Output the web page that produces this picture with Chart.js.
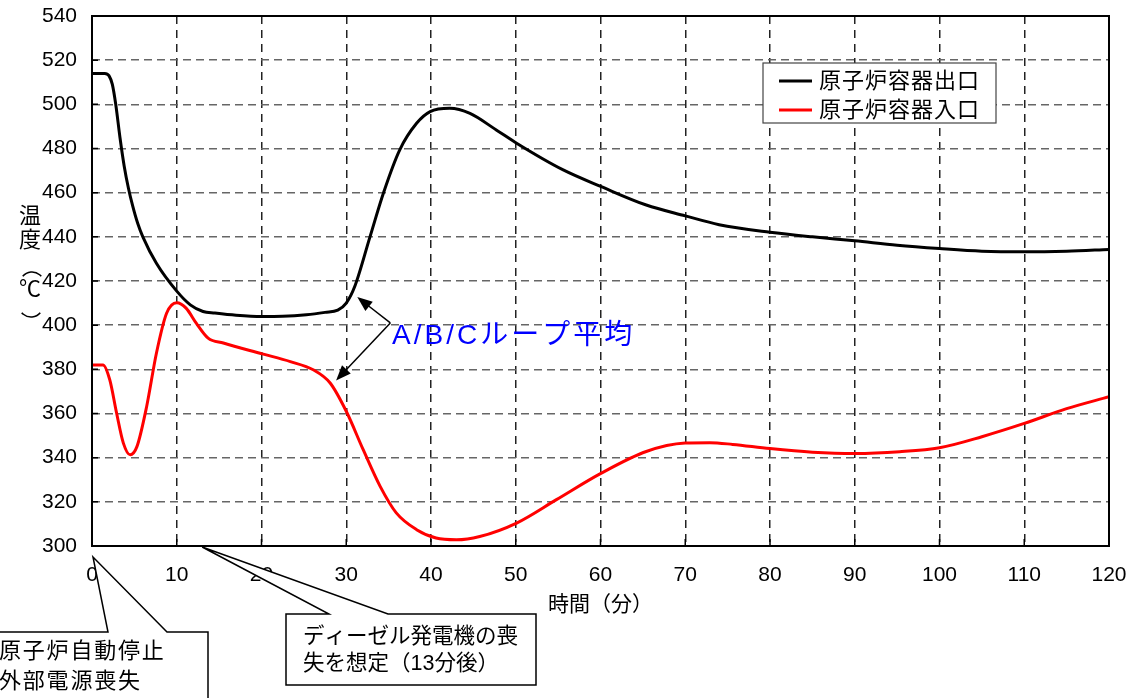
<!DOCTYPE html>
<html>
<head>
<meta charset="utf-8">
<script src="https://cdn.jsdelivr.net/npm/chart.js@4.4.1/dist/chart.umd.min.js"></script>
<style>
  body { margin: 0; background: #fff; }
  #wrap { width: 1133px; height: 698px; }
</style>
</head>
<body>
<div id="wrap"><canvas id="myChart" width="1133" height="698"></canvas></div>
<script>
// 原子炉容器出口 (outlet)
var outletTime = [0, 1.5, 2.0, 2.4, 2.8, 3.3, 3.8, 4.3, 4.8, 5.4, 6.0, 7.6, 10.0, 11.6, 13.1, 14.5, 17, 20, 22.5, 25.3, 27.5, 29, 30, 31, 32.8, 34.4, 36.3, 38.3, 39.9, 42.2, 44.6, 47.7, 50.1, 55.6, 60.1, 65.4, 70, 74, 80, 85, 90, 95, 100, 105, 110, 115, 120];
var outletTemp = [514, 514, 513, 509, 500, 485, 472, 462, 454, 446, 440, 428, 415.4, 409.2, 406.2, 405.5, 404.5, 403.9, 404, 404.7, 405.8, 406.8, 410, 417.5, 440, 460, 479.3, 491.4, 496.7, 498.2, 495.9, 488.4, 482.4, 470.3, 462.7, 454.4, 449.5, 445.5, 442.1, 440, 438.2, 436.2, 434.7, 433.5, 433.2, 433.5, 434.3];

// 原子炉容器入口 (inlet)
var inletTime = [0, 1.3, 2.1, 2.9, 3.7, 4.5, 5.3, 6.45, 7.6, 8.8, 10.0, 11.1, 12.3, 13.7, 15.5, 20.1, 23.4, 26.1, 28.1, 30, 32, 34, 35.9, 38.3, 40.6, 43, 45.75, 50.1, 54.8, 60.1, 65.4, 70, 72.9, 75.6, 80, 85, 90, 95.3, 100, 105, 110, 115, 120];
var inletTemp = [382, 382, 375.2, 360.2, 346.6, 341.3, 345, 363.2, 387.3, 405.4, 410.2, 407.7, 400.9, 394.1, 391.9, 387, 383.5, 379.8, 373.8, 361, 343.6, 327, 315, 307.4, 303.6, 302.8, 304.3, 310.4, 321, 333, 342.8, 346.6, 346.8, 346, 344.1, 342.5, 341.9, 342.7, 344.5, 349.5, 355.5, 362.2, 367.6];

var seriesLabels = ['原子炉容器出口', '原子炉容器入口'];
var seriesColors = ['#000000', '#ff0000'];

var xMin = 0, xMax = 120, xStep = 10;
var yMin = 300, yMax = 540, yStep = 10;

var FONT = "'Liberation Sans', 'Noto Sans CJK JP', sans-serif";

function toPoints(xs, ys) {
    return xs.map(function (t, i) { return {x: t, y: ys[i]}; });
}

// annotations, legend, frame, inner ticks
var extras = {
    id: 'extras',
    afterDraw: function (chart) {
        var ctx = chart.ctx;
        var a = chart.chartArea;
        var x = chart.scales.x, y = chart.scales.y;
        ctx.save();

        // inner tick marks
        ctx.strokeStyle = '#000';
        ctx.lineWidth = 1.5;
        ctx.beginPath();
        y.ticks.forEach(function (t) {
            var py = y.getPixelForValue(t.value);
            ctx.moveTo(a.left, py); ctx.lineTo(a.left + 6, py);
        });
        x.ticks.forEach(function (t) {
            var px = x.getPixelForValue(t.value);
            ctx.moveTo(px, a.bottom); ctx.lineTo(px, a.bottom - 7);
        });
        ctx.stroke();

        // frame
        ctx.lineWidth = 2;
        ctx.strokeRect(a.left, a.top, a.right - a.left, a.bottom - a.top);

        // legend
        var lx = 763, ly = 63;
        ctx.fillStyle = '#fff';
        ctx.fillRect(lx, ly, 233, 60);
        ctx.strokeStyle = '#444';
        ctx.lineWidth = 1.2;
        ctx.strokeRect(lx, ly, 233, 60);
        ctx.font = '22px ' + FONT;
        ctx.textBaseline = 'middle';
        ctx.textAlign = 'left';
        ctx.letterSpacing = '1px';
        chart.data.datasets.forEach(function (ds, i) {
            var rowY = ly + 18 + i * 29;
            ctx.strokeStyle = ds.borderColor;
            ctx.lineWidth = 3;
            ctx.beginPath();
            ctx.moveTo(lx + 16, rowY); ctx.lineTo(lx + 49, rowY);
            ctx.stroke();
            ctx.fillStyle = '#000';
            ctx.fillText(ds.label, lx + 56, rowY + 1);
        });
        ctx.letterSpacing = '0px';

        // y axis title (vertical)
        ctx.fillStyle = '#000';
        ctx.font = '22px ' + FONT;
        ctx.textAlign = 'center';
        ctx.textBaseline = 'middle';
        ctx.fillText('温', 30, 217);
        ctx.fillText('度', 30, 241);
        ctx.fillText('℃', 30, 290);
        ctx.strokeStyle = '#000';
        ctx.lineWidth = 1.6;
        ctx.beginPath();
        ctx.arc(32, 284, 12, Math.PI * 1.22, Math.PI * 1.78);
        ctx.stroke();
        ctx.beginPath();
        ctx.arc(31, 305, 12, Math.PI * 0.22, Math.PI * 0.78);
        ctx.stroke();

        // arrows to curves
        var ox = x.getPixelForValue(35.2), oy = y.getPixelForValue(401);
        var tips = [[31.3, 412.7], [28.8, 375]];
        ctx.strokeStyle = '#000';
        ctx.fillStyle = '#000';
        ctx.lineWidth = 1.5;
        tips.forEach(function (tp) {
            var tx = x.getPixelForValue(tp[0]), ty = y.getPixelForValue(tp[1]);
            var ang = Math.atan2(ty - oy, tx - ox);
            ctx.beginPath();
            ctx.moveTo(ox, oy);
            ctx.lineTo(tx - 12 * Math.cos(ang), ty - 12 * Math.sin(ang));
            ctx.stroke();
            ctx.beginPath();
            ctx.moveTo(tx, ty);
            ctx.lineTo(tx - 15 * Math.cos(ang) + 6 * Math.sin(ang), ty - 15 * Math.sin(ang) - 6 * Math.cos(ang));
            ctx.lineTo(tx - 15 * Math.cos(ang) - 6 * Math.sin(ang), ty - 15 * Math.sin(ang) + 6 * Math.cos(ang));
            ctx.closePath();
            ctx.fill();
        });
        ctx.fillStyle = '#0000ff';
        ctx.font = '28px ' + FONT;
        ctx.textAlign = 'left';
        ctx.textBaseline = 'middle';
        ctx.letterSpacing = '3px';
        ctx.fillText('A/B/Cループ平均', 392, 336);
        ctx.letterSpacing = '0px';

        // callouts
        ctx.lineWidth = 1.5;
        ctx.strokeStyle = '#000';
        var t0 = x.getPixelForValue(0);
        ctx.beginPath();
        ctx.moveTo(-5, 632); ctx.lineTo(108, 632);
        ctx.lineTo(t0 + 1, a.bottom + 11);
        ctx.lineTo(167, 632); ctx.lineTo(208, 632);
        ctx.lineTo(208, 705); ctx.lineTo(-5, 705);
        ctx.closePath();
        ctx.fillStyle = '#fff';
        ctx.fill();
        ctx.stroke();

        var t13 = x.getPixelForValue(13);
        ctx.beginPath();
        ctx.moveTo(286, 614); ctx.lineTo(329, 614);
        ctx.lineTo(t13, a.bottom + 1);
        ctx.lineTo(388, 614); ctx.lineTo(536, 614);
        ctx.lineTo(536, 685); ctx.lineTo(286, 685);
        ctx.closePath();
        ctx.fill();
        ctx.stroke();

        ctx.fillStyle = '#000';
        ctx.font = '22px ' + FONT;
        ctx.textAlign = 'left';
        ctx.letterSpacing = '1.8px';
        ctx.fillText('原子炉自動停止', -1, 652);
        ctx.fillText('外部電源喪失', -1, 682);
        ctx.letterSpacing = '0px';
        ctx.font = '21.5px ' + FONT;
        ctx.fillText('ディーゼル発電機の喪', 303, 637);
        ctx.fillText('失を想定（13分後）', 303, 664);

        ctx.restore();
    }
};

new Chart(document.getElementById('myChart'), {
    type: 'line',
    data: {
        datasets: [{
            label: seriesLabels[0],
            data: toPoints(outletTime, outletTemp),
            borderColor: seriesColors[0],
            borderWidth: 3,
            pointRadius: 0,
            cubicInterpolationMode: 'monotone',
            fill: false
        }, {
            label: seriesLabels[1],
            data: toPoints(inletTime, inletTemp),
            borderColor: seriesColors[1],
            borderWidth: 3,
            pointRadius: 0,
            cubicInterpolationMode: 'monotone',
            fill: false
        }]
    },
    options: {
        responsive: false,
        animation: false,
        layout: { padding: { left: 0, top: 16, right: 24, bottom: 0 } },
        plugins: {
            legend: { display: false },
            tooltip: { enabled: false }
        },
        scales: {
            x: {
                type: 'linear',
                min: xMin, max: xMax,
                ticks: {
                    stepSize: xStep,
                    color: '#000',
                    font: { family: FONT, size: 21 },
                    padding: 17,
                    maxRotation: 0
                },
                grid: { color: '#222', lineWidth: 1.5, drawTicks: false },
                border: { display: false, dash: [8, 6] },
                title: {
                    display: true,
                    text: '時間（分）',
                    color: '#000',
                    font: { family: FONT, size: 21 },
                    padding: { top: 0, bottom: 80 }
                },
                afterFit: function (s) { s.height = 152; s.paddingLeft = 0; s.paddingRight = 0; }
            },
            y: {
                min: yMin, max: yMax,
                ticks: {
                    stepSize: yStep,
                    color: '#000',
                    font: { family: FONT, size: 21 },
                    padding: 15,
                    callback: function (v) { return v % 20 === 0 ? v : ''; }
                },
                grid: {
                    color: function (c) { return c.tick && c.tick.value % 20 === 0 ? '#666' : 'rgba(0,0,0,0)'; },
                    lineWidth: 1.5,
                    drawTicks: false
                },
                border: { display: false, dash: [8, 5] },
                afterFit: function (s) { s.width = 92; s.paddingTop = 0; s.paddingBottom = 0; }
            }
        }
    },
    plugins: [extras]
});
</script>
</body>
</html>
